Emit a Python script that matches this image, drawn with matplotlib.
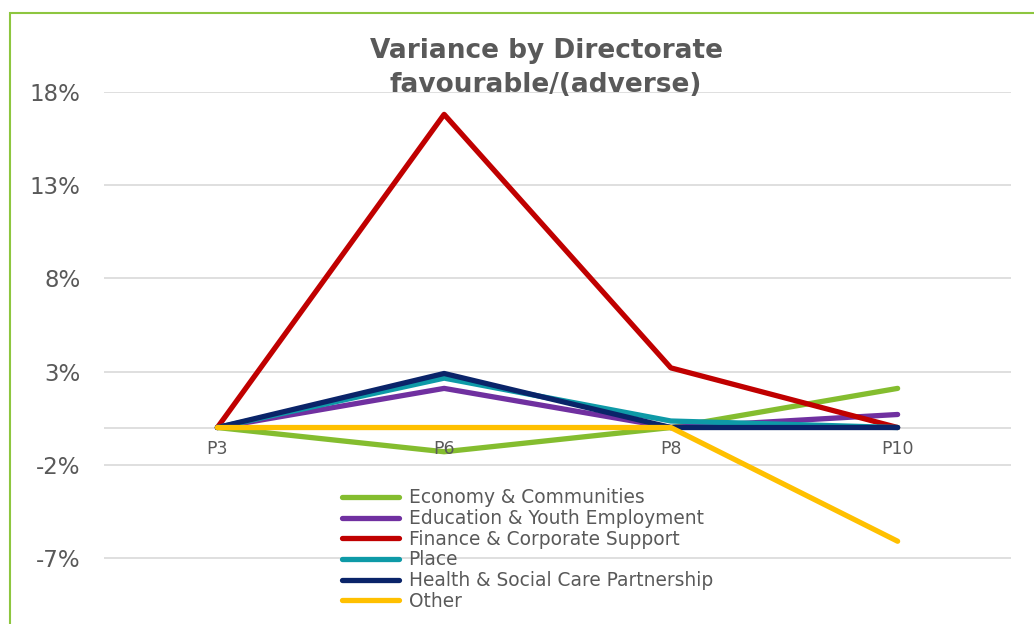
import matplotlib.pyplot as plt
from matplotlib.patches import Rectangle

# periods and variance (%) by directorate
periods = ['P3', 'P6', 'P8', 'P10']
economy = [0.0, -1.3, 0.0, 2.1]
education = [0.0, 2.1, 0.0, 0.7]
finance = [0.0, 16.8, 3.2, 0.0]
place = [0.0, 2.65, 0.35, 0.0]
health = [0.0, 2.9, 0.0, 0.0]
other = [0.0, 0.0, 0.0, -6.1]

y_ticks = [18, 13, 8, 3, -2, -7]

series = [
    ('Economy & Communities', economy, '#84BD2F'),
    ('Education & Youth Employment', education, '#7030A0'),
    ('Finance & Corporate Support', finance, '#C00000'),
    ('Place', place, '#0E9AA7'),
    ('Health & Social Care Partnership', health, '#0A2469'),
    ('Other', other, '#FFC000'),
]

grey = '#595959'

fig = plt.figure(figsize=(10.34, 6.24), dpi=100)
W, H = 1034, 624

# green frame round the chart
fig.patches.append(Rectangle((10 / W, -0.1), 1.2, 1 - 13 / H + 0.1,
                             transform=fig.transFigure, fill=False,
                             edgecolor='#8DC63F', lw=1.5))

ax = fig.add_axes([104 / W, 0, (1011 - 104) / W, (H - 92) / H])
x = range(len(periods))

for name, vals, col in series:
    ax.plot(x, vals, color=col, lw=3.8, label=name, solid_capstyle='round',
            zorder=3)

ax.set_xlim(-0.5, 3.5)
ax.set_ylim(-10.54, 18)
ax.set_yticks(y_ticks)
ax.set_yticklabels([f'{t}%' for t in y_ticks], fontsize=16.5, color=grey)
ax.yaxis.grid(True, color='#D9D9D9', lw=1.2)
ax.axhline(0, color='#D9D9D9', lw=1.2, zorder=1)
ax.set_axisbelow(True)
ax.tick_params(axis='y', length=0, pad=17)

ax.set_xticks([])
for i, p in enumerate(periods):
    ax.text(i, -0.65, p, ha='center', va='top', fontsize=12.5, color=grey)

for s in ax.spines.values():
    s.set_visible(False)

fig.text(546 / W, 1 - 68 / H, 'Variance by Directorate\nfavourable/(adverse)',
         ha='center', va='center', fontsize=19, fontweight='bold',
         color=grey, linespacing=1.35)

leg = ax.legend(loc='upper left',
                bbox_to_anchor=((335 - 104) / 907, (532 - (481 - 92)) / 532),
                frameon=False, fontsize=13.4, labelspacing=0.09,
                handlelength=3.05, handletextpad=0.5, borderaxespad=0)
for t in leg.get_texts():
    t.set_color(grey)

fig.savefig('out.png', dpi=100)
